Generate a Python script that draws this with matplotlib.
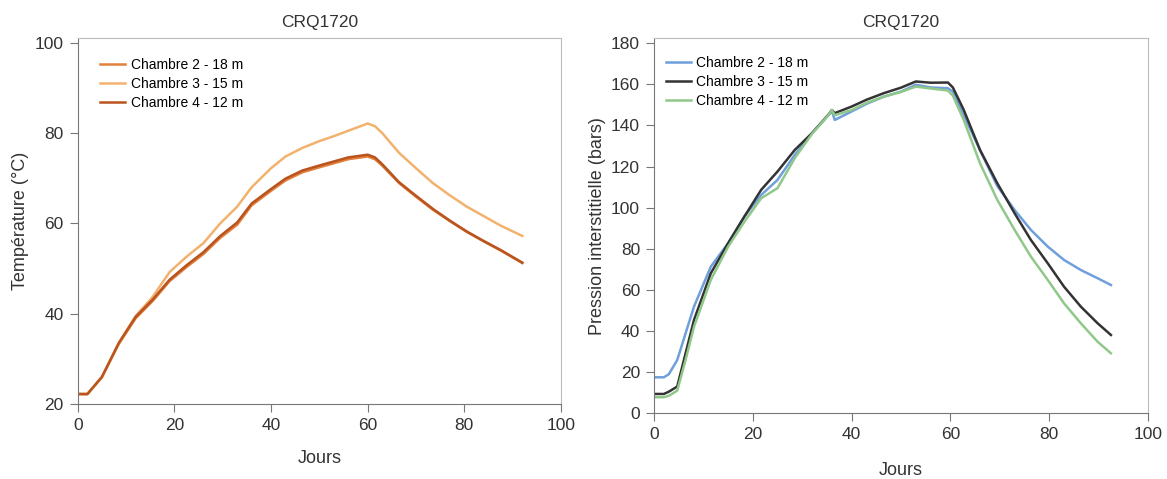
import matplotlib.pyplot as plt

plt.rcParams['font.family'] = ['Liberation Sans', 'DejaVu Sans']

# Température (°C) vs Jours
t_days = [0, 2, 5, 8.5, 12, 15.5, 19, 22.5, 26, 29.5, 33, 36, 40, 43, 46.5, 50,
          53, 56, 60, 61.5, 63, 66.5, 70, 73.5, 77, 80.5, 84, 87.5, 92]
temp_ch2 = [22.2, 22.2, 25.9, 33.3, 39, 42.8, 47.2, 50.3, 53.2, 56.8, 59.7, 64,
            67.2, 69.5, 71.3, 72.4, 73.3, 74.2, 74.8, 74.2, 72.8, 68.9, 65.9, 63,
            60.5, 58.1, 56, 54, 51.2]
temp_ch3 = [22.2, 22.2, 25.9, 33.5, 39.5, 43.7, 49.2, 52.6, 55.6, 60, 63.7, 68,
            72.2, 74.8, 76.7, 78.2, 79.3, 80.5, 82.1, 81.5, 80, 75.6, 72.2, 68.9,
            66.2, 63.7, 61.6, 59.5, 57.2]
temp_ch4 = [22.2, 22.2, 26, 33.5, 39.3, 43.1, 47.5, 50.7, 53.6, 57.2, 60.2, 64.4,
            67.6, 69.9, 71.7, 72.8, 73.7, 74.6, 75.2, 74.6, 73.1, 69.1, 66.1, 63.2,
            60.6, 58.2, 56.1, 54.1, 51.3]

# Pression interstitielle (bars) vs Jours
p_days = [0, 2, 3, 4.7, 6.4, 8.1, 9.8, 11.5, 15, 18.3, 21.7, 25, 28.5, 32, 35.3,
          36, 36.6, 40, 43, 46.5, 50, 53, 56, 59.5, 60.5, 62.7, 66, 69.5, 73,
          76.3, 79.7, 83, 86.4, 89.8, 92.5]
pres_ch2 = [17.5, 17.5, 19, 25.9, 38.9, 51.9, 61.6, 71.3, 82.7, 95.7, 106.2,
            113.5, 125.7, 136.3, 145, 147, 142.7, 146.8, 150.5, 154, 156.5, 159.8,
            158.5, 158.1, 156.5, 145, 128, 110.5, 98.9, 89.2, 81.1, 74.6, 69.7,
            65.7, 62.4]
pres_ch3 = [9.4, 9.4, 10.5, 13, 29.2, 45.4, 56.7, 68.1, 82.7, 95.7, 108.7, 117.6,
            128.1, 136.3, 145.2, 147.5, 146, 149.2, 152.5, 155.7, 158.4, 161.4,
            160.8, 160.9, 158.5, 147.6, 128.1, 111.9, 97.3, 84.3, 73, 61.6, 51.9,
            43.8, 38.1]
pres_ch4 = [7.8, 7.8, 8.5, 11, 26, 42.1, 53.5, 64.9, 81, 93.2, 104.6, 109.5,
            124.1, 136, 145, 147.5, 145, 147.5, 151, 154, 156.3, 158.9, 158, 157,
            154.5, 142.7, 121.6, 103.8, 89.2, 76.2, 64.9, 53.5, 43.8, 34.8, 29.2]

labels = ['Chambre 2 - 18 m', 'Chambre 3 - 15 m', 'Chambre 4 - 12 m']


def style_axes(ax):
    for s in ['top', 'right']:
        ax.spines[s].set_color('#bbbbbb')
    for s in ['left', 'bottom']:
        ax.spines[s].set_color('#777777')
    ax.tick_params(axis='both', labelsize=12.5, direction='out', length=6,
                   pad=4, color='#777777', labelcolor='#333333')
    ax.set_xlim(0, 100)
    ax.set_xticks([0, 20, 40, 60, 80, 100])


fig = plt.figure(figsize=(11.67, 4.79), dpi=100)
ax1 = fig.add_axes([0.0666, 0.1566, 0.4141, 0.7647])
ax2 = fig.add_axes([0.5604, 0.1372, 0.4233, 0.7828])

temp_colors = ['#e2803d', '#f2b26e', '#b9541f']
for y, c, lab in zip([temp_ch2, temp_ch3, temp_ch4], temp_colors, labels):
    ax1.plot(t_days, y, color=c, lw=1.8, label=lab, solid_joinstyle='round')
style_axes(ax1)
ax1.set_ylim(20, 101.1)
ax1.set_yticks([20, 40, 60, 80, 100])
ax1.set_title('CRQ1720', fontsize=12.5, pad=8, color='#333333')
ax1.set_xlabel('Jours', fontsize=13, labelpad=12, color='#333333')
ax1.set_ylabel('Température (°C)', fontsize=13, color='#333333')
ax1.legend(loc='upper left', frameon=False, fontsize=10, handlelength=1.8,
           handletextpad=0.4, labelspacing=0.35, borderpad=0, borderaxespad=0,
           bbox_to_anchor=(0.046, 0.944))

pres_colors = ['#6f9fdc', '#333333', '#90c88a']
for y, c, lab in zip([pres_ch2, pres_ch3, pres_ch4], pres_colors, labels):
    ax2.plot(p_days, y, color=c, lw=1.8, label=lab, solid_joinstyle='round')
style_axes(ax2)
ax2.set_ylim(0, 182.4)
ax2.set_yticks(range(0, 181, 20))
ax2.set_title('CRQ1720', fontsize=12.5, pad=8, color='#333333')
ax2.set_xlabel('Jours', fontsize=13, labelpad=14, color='#333333')
ax2.set_ylabel('Pression interstitielle (bars)', fontsize=13, color='#333333')
ax2.legend(loc='upper left', frameon=False, fontsize=10, handlelength=1.8,
           handletextpad=0.4, labelspacing=0.35, borderpad=0, borderaxespad=0,
           bbox_to_anchor=(0.024, 0.953))

fig.savefig('out.png', dpi=100)
